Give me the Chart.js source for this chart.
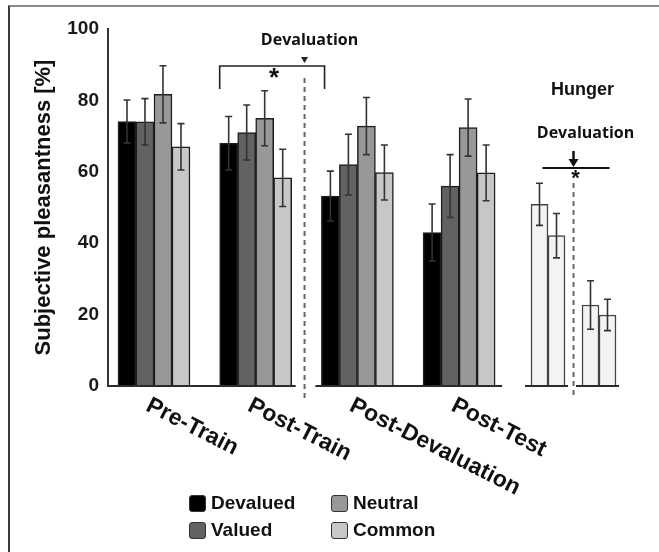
<!DOCTYPE html>
<html>
<head>
<meta charset="utf-8">
<script src="https://cdn.jsdelivr.net/npm/chart.js@4.4.0/dist/chart.umd.min.js"></script>
<style>
  body { margin: 0; background: #fff; }
  #wrap { position: relative; width: 659px; height: 552px; overflow: hidden; font-family: "Liberation Sans", Arial, sans-serif; }
  #frame { position: absolute; left: 8px; top: 5px; width: 700px; height: 600px; border-top: 2px solid #8a8a8a; border-left: 2px solid #3a3a3a; }
  canvas { position: absolute; left: 0; top: 0; }
  #legend { position: absolute; left: 189px; top: 494px; display: grid; grid-template-columns: 142px auto; row-gap: 9px; }
  .item { display: flex; align-items: center; height: 18px; font-weight: bold; font-size: 19px; color: #111; }
  .box { width: 17px; height: 17px; border: 1px solid #333; border-radius: 3px; margin-right: 5px; box-sizing: border-box; }
</style>
</head>
<body>
<div id="wrap">
  <div id="frame"></div>
  <canvas id="mainChart" width="659" height="552"></canvas>
  <canvas id="hungerChart" width="659" height="552"></canvas>
  <div id="legend"></div>
</div>
<script>
const groups = ['Pre-Train', 'Post-Train', 'Post-Devaluation', 'Post-Test'];
const seriesNames = ['Devalued', 'Valued', 'Neutral', 'Common'];
const seriesColors = ['#000000', '#626262', '#989898', '#c7c7c7'];

const devalued = [74.1, 68, 53.2, 43];
const valued = [74, 71, 62, 56];
const neutral = [81.7, 75, 72.8, 72.4];
const common = [67, 58.3, 59.8, 59.7];

const devaluedErr = [6, 7.5, 7, 8];
const valuedErr = [6.5, 7.7, 8.5, 8.8];
const neutralErr = [8, 7.7, 8, 8];
const commonErr = [6.5, 8, 7.7, 7.8];

// hunger ratings, before / after devaluation, two bars each
const hungerGroups = ['Before', 'After'];
const hungerFirst = [50.9, 22.7];
const hungerSecond = [42.1, 19.9];
const hungerFirstErr = [5.9, 6.8];
const hungerSecondErr = [6.2, 4.4];

const yTicks = [0, 20, 40, 60, 80, 100];

const txt = '#111';
const boldFont = '"Liberation Sans", Arial, sans-serif';
const noteFont = 'bold 16px "Open Sans", sans-serif';

const errorBars = {
  id: 'errorBars',
  afterDatasetsDraw(chart) {
    const ctx = chart.ctx, y = chart.scales.y;
    ctx.save();
    ctx.strokeStyle = '#333';
    ctx.lineWidth = 1.6;
    chart.data.datasets.forEach((ds, i) => {
      chart.getDatasetMeta(i).data.forEach((bar, j) => {
        const d = ds.data[j];
        const v = typeof d === 'object' ? d.y : d;
        const e = ds.errors[j];
        const top = y.getPixelForValue(v + e), bot = y.getPixelForValue(v - e);
        ctx.beginPath();
        ctx.moveTo(bar.x, top); ctx.lineTo(bar.x, bot);
        ctx.moveTo(bar.x - 3.5, top); ctx.lineTo(bar.x + 3.5, top);
        ctx.moveTo(bar.x - 3.5, bot); ctx.lineTo(bar.x + 3.5, bot);
        ctx.stroke();
      });
    });
    ctx.restore();
  }
};

function line(ctx, x1, y1, x2, y2) {
  ctx.beginPath(); ctx.moveTo(x1, y1); ctx.lineTo(x2, y2); ctx.stroke();
}

const mainMarks = {
  id: 'mainMarks',
  afterDraw(chart) {
    const ctx = chart.ctx, area = chart.chartArea;
    const metas = [0, 1, 2, 3].map(i => chart.getDatasetMeta(i).data);
    const left = j => metas[0][j].x - metas[0][j].width / 2;
    const right = j => metas[3][j].x + metas[3][j].width / 2;
    const base = area.bottom;
    ctx.save();
    ctx.strokeStyle = '#2b2b2b';
    ctx.lineWidth = 2;
    line(ctx, area.left, base, right(1) + 4, base);
    line(ctx, left(2) - 6, base, right(3) + 7, base);

    const dx = (right(1) + left(2)) / 2 - 2;
    ctx.strokeStyle = '#666';
    ctx.setLineDash([5, 4]);
    line(ctx, dx, 78, dx, 398);
    ctx.setLineDash([]);

    // bracket
    ctx.strokeStyle = '#222';
    ctx.lineWidth = 1.6;
    const bx1 = left(1), bx2 = dx + 20;
    ctx.beginPath();
    ctx.moveTo(bx1, 89); ctx.lineTo(bx1, 66); ctx.lineTo(bx2, 66); ctx.lineTo(bx2, 89);
    ctx.stroke();
    ctx.fillStyle = '#222';
    ctx.beginPath();
    ctx.moveTo(dx - 3.5, 57); ctx.lineTo(dx + 3.5, 57); ctx.lineTo(dx, 63); ctx.closePath();
    ctx.fill();

    ctx.fillStyle = txt;
    ctx.textAlign = 'center';
    ctx.textBaseline = 'middle';
    ctx.font = noteFont;
    ctx.fillText('Devaluation', dx + 5, 40);
    ctx.textBaseline = 'top';
    ctx.font = 'bold 26px ' + boldFont;
    ctx.fillText('*', (bx1 + bx2) / 2 + 2, 66);

    // rotated category labels
    ctx.font = 'bold 23px ' + boldFont;
    ctx.textAlign = 'left';
    ctx.textBaseline = 'top';
    groups.forEach((g, i) => {
      const px = chart.scales.x.getPixelForValue(i);
      ctx.save();
      ctx.translate(px - 1, 394);
      ctx.rotate(27 * Math.PI / 180);
      ctx.fillText(g, 0, 0);
      ctx.restore();
    });
    ctx.restore();
  }
};

const hungerMarks = {
  id: 'hungerMarks',
  afterDraw(chart) {
    const ctx = chart.ctx, area = chart.chartArea;
    const metas = [0, 1].map(i => chart.getDatasetMeta(i).data);
    const left = k => metas[0][k].x - metas[0][k].width / 2;
    const right = k => metas[1][k].x + metas[1][k].width / 2;
    const base = area.bottom;
    ctx.save();
    ctx.strokeStyle = '#2b2b2b';
    ctx.lineWidth = 2;
    [0, 1].forEach(k => line(ctx, left(k) - 6, base, right(k) + 3, base));

    const dx = (right(0) + left(1)) / 2;
    ctx.strokeStyle = '#666';
    ctx.setLineDash([5, 4]);
    line(ctx, dx, 183, dx, 398);
    ctx.setLineDash([]);

    ctx.strokeStyle = '#111';
    ctx.lineWidth = 1.8;
    line(ctx, dx - 31, 168, dx + 36, 168);
    ctx.lineWidth = 2.5;
    line(ctx, dx, 151, dx, 161);
    ctx.fillStyle = '#111';
    ctx.beginPath();
    ctx.moveTo(dx - 5, 159); ctx.lineTo(dx + 5, 159); ctx.lineTo(dx, 167); ctx.closePath();
    ctx.fill();

    ctx.fillStyle = txt;
    ctx.textAlign = 'center';
    ctx.textBaseline = 'middle';
    ctx.font = 'bold 18px ' + boldFont;
    ctx.fillText('Hunger', dx + 9, 90);
    ctx.font = noteFont;
    ctx.fillText('Devaluation', dx + 12, 133);
    ctx.textBaseline = 'top';
    ctx.font = 'bold 22px ' + boldFont;
    ctx.fillText('*', dx + 2, 168);
    ctx.restore();
  }
};

const mainSeries = [devalued, valued, neutral, common];
const mainErrs = [devaluedErr, valuedErr, neutralErr, commonErr];

new Chart(document.getElementById('mainChart'), {
  type: 'bar',
  data: {
    datasets: seriesNames.map((name, s) => ({
      label: name,
      data: mainSeries[s].map((v, i) => ({ x: i, y: v })),
      errors: mainErrs[s],
      backgroundColor: seriesColors[s],
      borderColor: '#1e1e1e',
      borderWidth: 1.5,
      barThickness: 18
    }))
  },
  options: {
    responsive: false,
    animation: false,
    layout: { padding: { left: 27, right: 147, top: 29, bottom: 166 } },
    plugins: { legend: { display: false }, tooltip: { enabled: false } },
    scales: {
      x: { type: 'linear', display: false, offset: false, min: -0.452, max: 3.52 },
      y: {
        min: 0, max: 100,
        afterFit(scale) { scale.width = 81; },
        afterBuildTicks(scale) { scale.ticks = yTicks.map(v => ({ value: v })); },
        grid: { display: false, drawTicks: false },
        border: { display: true, color: '#333', width: 2 },
        ticks: { padding: 9, color: '#1a1a1a', font: { family: boldFont, size: 19, weight: 'bold' } },
        title: { display: true, text: 'Subjective pleasantness [%]', color: '#111', font: { family: boldFont, size: 22, weight: 'bold' } }
      }
    }
  },
  plugins: [errorBars, mainMarks]
});

new Chart(document.getElementById('hungerChart'), {
  type: 'bar',
  data: {
    labels: hungerGroups,
    datasets: [
      { label: 'Hunger 1', data: hungerFirst, errors: hungerFirstErr },
      { label: 'Hunger 2', data: hungerSecond, errors: hungerSecondErr }
    ].map(ds => Object.assign(ds, {
      backgroundColor: '#f3f3f3', borderColor: '#444', borderWidth: 1.5, barThickness: 17
    }))
  },
  options: {
    responsive: false,
    animation: false,
    layout: { padding: { left: 522.5, right: 34.5, top: 29, bottom: 166 } },
    plugins: { legend: { display: false }, tooltip: { enabled: false } },
    scales: {
      x: { display: false },
      y: { display: false, min: 0, max: 100 }
    }
  },
  plugins: [errorBars, hungerMarks]
});

const legend = document.getElementById('legend');
[0, 2, 1, 3].forEach(s => {
  const item = document.createElement('div');
  item.className = 'item';
  item.innerHTML = '<span class="box" style="background:' + seriesColors[s] + '"></span>' + seriesNames[s];
  legend.appendChild(item);
});
</script>
</body>
</html>
